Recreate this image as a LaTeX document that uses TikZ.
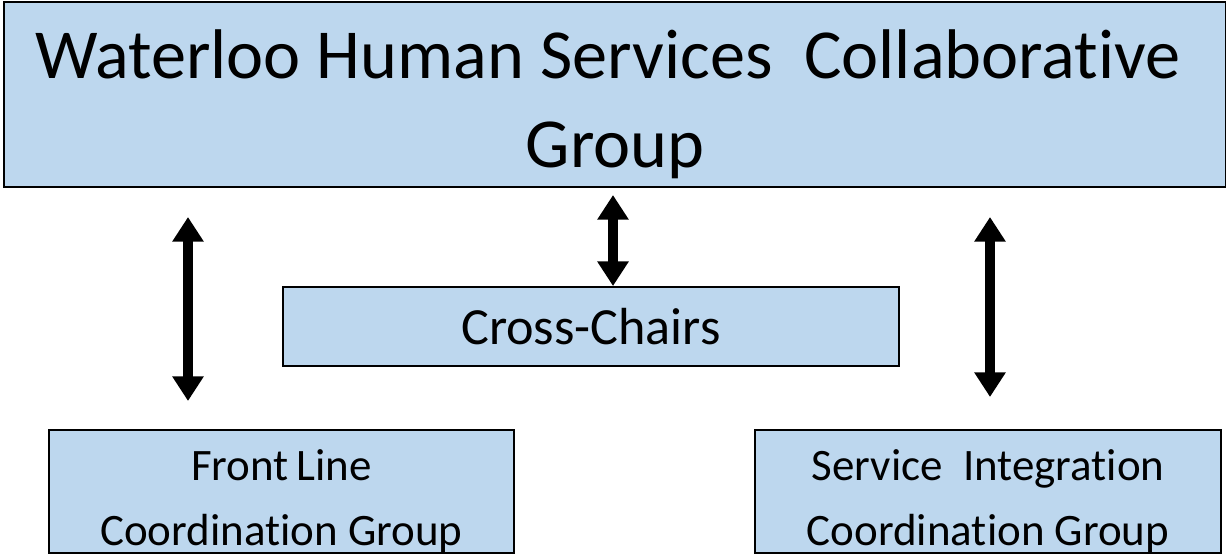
\documentclass[tikz,border=0pt]{standalone}
\usepackage{fontspec}
\setmainfont{Carlito}[Ligatures=NoCommon]
\usetikzlibrary{arrows.meta}
\definecolor{boxblue}{HTML}{BDD7EE}
% struts that fix the top and bottom of a box's text
\newcommand{\hiStrut}[1]{\rule{0pt}{#1}}
\newcommand{\loStrut}[1]{\rule[-#1]{0pt}{#1}}

\begin{document}
\begin{tikzpicture}[x=0.02cm, y=-0.02cm,
    box/.style = {draw, fill=boxblue, line width=1.1pt, inner sep=0pt, align=center},
    link/.style = {line width=5.7pt, {Triangle[width=17pt,length=14pt]}-{Triangle[width=17pt,length=14pt]}}]
    \useasboundingbox (0,0) rectangle (1226,555);
    \node[box, minimum width=24.44cm, minimum height=3.7cm, font=\fontsize{40}{51.2}\selectfont] (whsc) at (615,94.5)
        {\hiStrut{1.52cm}\smash{Waterloo Human Services\ \ Collaborative\hspace*{0.28cm}}\\\smash{Group}\loStrut{0.38cm}};
    \node[box, minimum width=12.32cm, minimum height=1.58cm, font=\fontsize{29.7}{34}\selectfont] (cross) at (591,326.5)
        {\hiStrut{1.14cm}\smash{Cross-Chairs}\loStrut{0.44cm}};
    \node[box, minimum width=9.3cm, minimum height=2.46cm, font=\fontsize{25.6}{37}\selectfont] (front) at (281.5,491.5)
        {\hiStrut{1.0cm}\smash{Front\,Line}\\\smash{Coordination Group}\loStrut{0.16cm}};
    \node[box, minimum width=9.32cm, minimum height=2.46cm, font=\fontsize{25.6}{37}\selectfont] (service) at (988,491.5)
        {\hiStrut{1.0cm}\smash{Service\ \ Integration}\\\smash{Coordination Group}\loStrut{0.16cm}};
    % arrow ends
    \coordinate (fa) at (188,217);
    \coordinate (fb) at (188,401);
    \coordinate (ca) at (613,195);
    \coordinate (sa) at (990,217);
    \coordinate (sb) at (990,397);
    \draw[link] (fa) -- (fb);
    \draw[link] (ca) -- (ca |- cross.north);
    \draw[link] (sa) -- (sb);
\end{tikzpicture}
\end{document}
